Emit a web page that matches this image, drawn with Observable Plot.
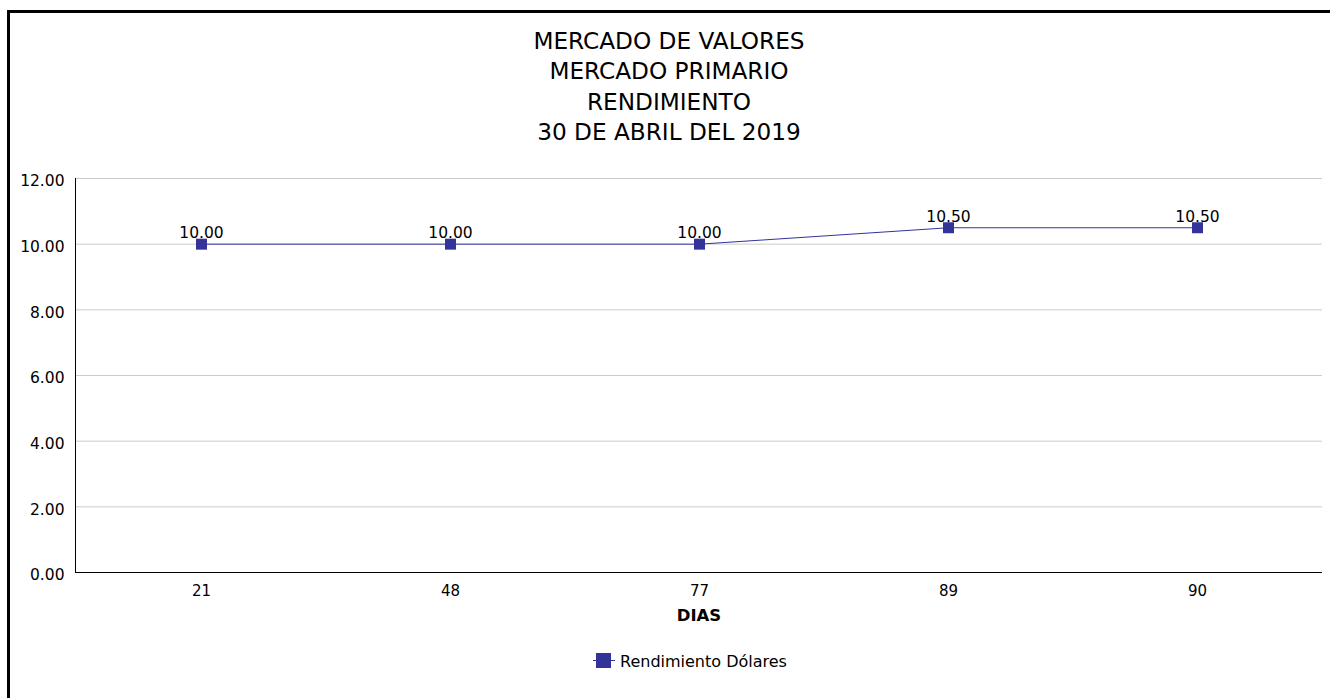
<!DOCTYPE html>
<html>
<head>
<meta charset="utf-8">
<script src="https://cdn.jsdelivr.net/npm/d3@7"></script>
<script src="https://cdn.jsdelivr.net/npm/@observablehq/plot@0.6"></script>
<style>
  html, body { margin: 0; padding: 0; background: #fff; }
  body { font-family: "DejaVu Sans", Verdana, sans-serif; color: #000; }
  #page { position: relative; width: 1330px; height: 698px; overflow: hidden; }
  #border { position: absolute; left: 7px; top: 10px; width: 1400px; height: 800px;
            border-left: 3px solid #000; border-top: 3px solid #000; }
  #title { position: absolute; top: 26px; left: 0; width: 1338px; text-align: center;
           font-size: 23.2px; line-height: 30.3px; }
  #chart { position: absolute; top: 160px; left: 0; }
  #legend { position: absolute; top: 652px; left: 593px; height: 22px; white-space: nowrap; }
  #legend .sym { position: absolute; left: 0; top: 0; width: 22px; height: 17px; }
  #legend .sym .ln { position: absolute; left: 0; top: 8px; width: 22px; height: 1px; background: #333399; }
  #legend .sym .sq { position: absolute; left: 3px; top: 1px; width: 15px; height: 15px; background: #333399; }
  #legend .txt { position: absolute; left: 27px; top: 0px; font-size: 16px; line-height: 20px; }
</style>
</head>
<body>
<div id="page">
  <div id="border"></div>
  <div id="title"></div>
  <div id="chart"></div>
  <div id="legend"><div class="sym"><div class="ln"></div><div class="sq"></div></div><div class="txt"></div></div>
</div>
<script>
const titleLines = ["MERCADO DE VALORES", "MERCADO PRIMARIO", "RENDIMIENTO", "30 DE ABRIL DEL 2019"];
const dias = ["21", "48", "77", "89", "90"];
const rendimiento = [10.00, 10.00, 10.00, 10.50, 10.50];
const yTicks = [0, 2, 4, 6, 8, 10, 12];
const xTitle = "DIAS";
const seriesName = "Rendimiento Dólares";
const color = "#333399";

const data = dias.map((d, i) => ({dia: d, valor: rendimiento[i]}));

document.getElementById("title").innerHTML = titleLines.map(t => `<div>${t}</div>`).join("");
document.querySelector("#legend .txt").textContent = seriesName;

const chart = Plot.plot({
  width: 1330,
  height: 480,
  marginLeft: 75,
  marginRight: 8,
  marginTop: 18,
  marginBottom: 68,
  style: {fontFamily: "'DejaVu Sans', Verdana, sans-serif", fontSize: "15px", color: "#000", background: "transparent"},
  x: {type: "point", domain: dias, padding: 0.5, label: null},
  y: {domain: [0, 12], ticks: yTicks, label: null},
  marks: [
    Plot.gridY(yTicks, {stroke: "#cccccc", strokeOpacity: 1}),
    Plot.axisY(yTicks, {tickSize: 0, tickPadding: 11, dy: 3, tickFormat: d => d.toFixed(2), fontSize: 15.5, label: null}),
    Plot.axisX({tickSize: 0, tickPadding: 13, fontSize: 15, label: null}),
    Plot.ruleY([0], {stroke: "#000"}),
    Plot.frame({anchor: "left", stroke: "#000"}),
    Plot.text([xTitle], {frameAnchor: "bottom", dy: 43, fontWeight: "bold", fontSize: 16.5, lineAnchor: "middle"}),
    Plot.line(data, {x: "dia", y: "valor", stroke: color, strokeWidth: 1}),
    Plot.dot(data, {x: "dia", y: "valor", symbol: "square", r: 6.2, fill: color, stroke: "none"}),
    Plot.text(data, {x: "dia", y: "valor", text: d => d.valor.toFixed(2), dy: -11, lineAnchor: "middle", fontSize: 15.5, fill: "#000"})
  ]
});
document.getElementById("chart").appendChild(chart);
</script>
</body>
</html>
